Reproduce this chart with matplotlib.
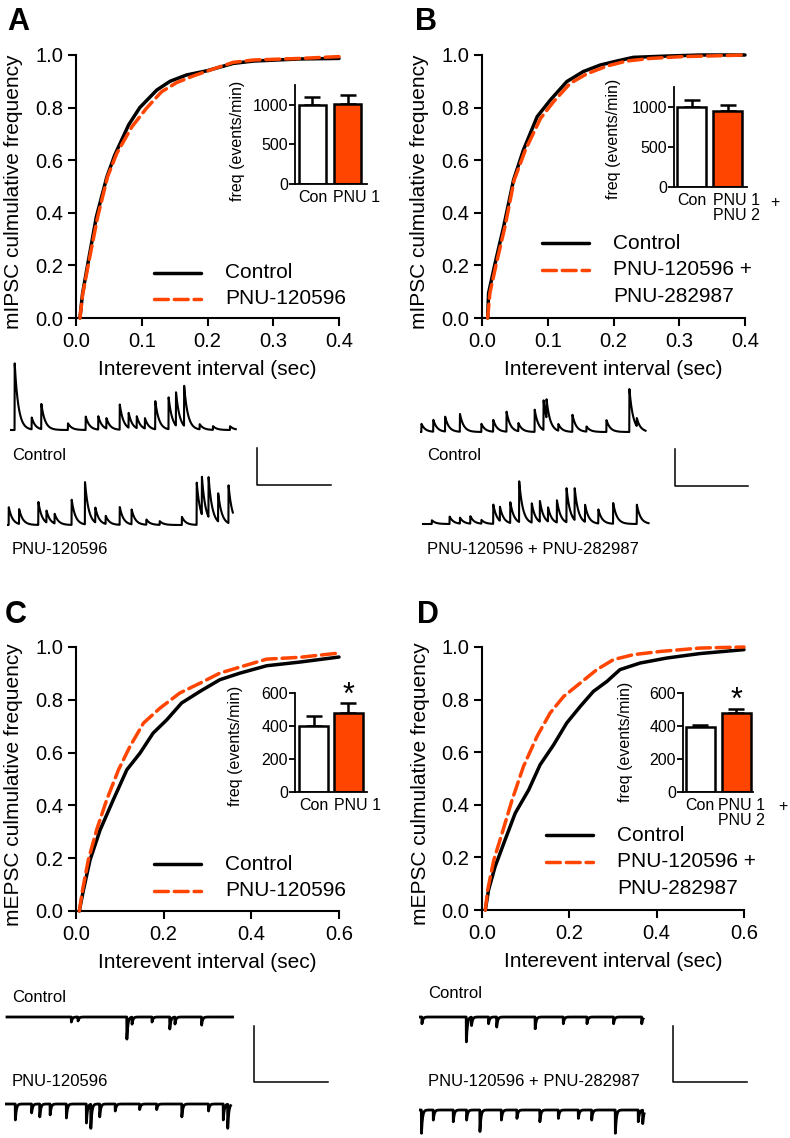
import numpy as np
import matplotlib
matplotlib.use("Agg")
import matplotlib.pyplot as plt
from matplotlib.lines import Line2D
from matplotlib.transforms import ScaledTranslation

plt.rcParams['font.family'] = ['Liberation Sans', 'DejaVu Sans']

ORANGE = '#ff4500'

# cumulative distributions, interevent interval (sec) vs cumulative fraction
a_ctrl_x = [0.006, 0.010, 0.019, 0.031, 0.047, 0.059, 0.080, 0.097, 0.123, 0.143, 0.168, 0.199, 0.239, 0.270, 0.341, 0.400]
a_ctrl_y = [0.0, 0.094, 0.22, 0.385, 0.537, 0.62, 0.734, 0.80, 0.867, 0.90, 0.924, 0.94, 0.968, 0.977, 0.985, 0.987]
a_pnu_x = [0.006, 0.010, 0.020, 0.033, 0.048, 0.062, 0.085, 0.107, 0.130, 0.153, 0.178, 0.209, 0.239, 0.270, 0.341, 0.400]
a_pnu_y = [0.0, 0.087, 0.22, 0.385, 0.537, 0.626, 0.727, 0.797, 0.86, 0.895, 0.92, 0.947, 0.972, 0.981, 0.987, 0.994]

b_ctrl_x = [0.0086, 0.010, 0.020, 0.033, 0.048, 0.063, 0.084, 0.104, 0.129, 0.154, 0.180, 0.205, 0.230, 0.281, 0.332, 0.400]
b_ctrl_y = [0.0, 0.095, 0.209, 0.348, 0.525, 0.639, 0.766, 0.829, 0.899, 0.937, 0.962, 0.977, 0.991, 0.996, 1.0, 1.0]
b_pnu_x = [0.0086, 0.012, 0.022, 0.035, 0.049, 0.066, 0.089, 0.109, 0.134, 0.159, 0.190, 0.220, 0.256, 0.306, 0.357, 0.400]
b_pnu_y = [0.0, 0.095, 0.209, 0.348, 0.525, 0.639, 0.759, 0.823, 0.892, 0.928, 0.958, 0.977, 0.987, 0.994, 0.997, 1.0]

c_ctrl_x = [0.0076, 0.017, 0.032, 0.055, 0.085, 0.116, 0.146, 0.176, 0.207, 0.241, 0.283, 0.328, 0.374, 0.435, 0.511, 0.600]
c_ctrl_y = [0.0, 0.08, 0.193, 0.307, 0.421, 0.535, 0.598, 0.674, 0.724, 0.788, 0.832, 0.876, 0.901, 0.929, 0.943, 0.962]
c_pnu_x = [0.0076, 0.015, 0.028, 0.047, 0.070, 0.097, 0.123, 0.154, 0.192, 0.237, 0.283, 0.328, 0.374, 0.435, 0.511, 0.600]
c_pnu_y = [0.0, 0.08, 0.193, 0.307, 0.421, 0.535, 0.623, 0.712, 0.769, 0.826, 0.863, 0.901, 0.924, 0.954, 0.961, 0.977]

d_ctrl_x = [0.0076, 0.015, 0.030, 0.050, 0.076, 0.107, 0.133, 0.164, 0.194, 0.225, 0.255, 0.286, 0.316, 0.362, 0.423, 0.499, 0.600]
d_ctrl_y = [0.0, 0.076, 0.165, 0.254, 0.368, 0.457, 0.552, 0.628, 0.711, 0.774, 0.831, 0.869, 0.914, 0.939, 0.958, 0.975, 0.99]
d_pnu_x = [0.0076, 0.013, 0.027, 0.046, 0.069, 0.095, 0.126, 0.156, 0.187, 0.225, 0.263, 0.301, 0.347, 0.408, 0.499, 0.600]
d_pnu_y = [0.0, 0.076, 0.19, 0.292, 0.419, 0.546, 0.66, 0.749, 0.812, 0.863, 0.914, 0.952, 0.971, 0.983, 0.996, 1.0]

# inset bar charts: mean frequency (events/min) and SEM
a_freq = [996, 1008]
a_sem = [108, 112]
b_freq = [995, 953]
b_sem = [97, 76]
c_freq = [401, 476]
c_sem = [57, 66]
d_freq = [391, 476]
d_sem = [18, 26]

# example traces: event times (s) and amplitudes (pA)
a_ctrl_t = [0.05, 0.28, 0.41, 0.77, 1.01, 1.18, 1.29, 1.47, 1.59, 1.70, 1.81, 1.95, 2.13, 2.23, 2.34, 2.55, 2.73, 2.96]
a_ctrl_amp = [90, 16, 34, 9, 18, 18, 14, 34, 20, 16, 14, 38, 43, 45, 54, 7, 5, 5]
a_pnu_t = [0.02, 0.16, 0.42, 0.53, 0.64, 0.87, 1.05, 1.19, 1.33, 1.52, 1.68, 1.88, 2.06, 2.36, 2.56, 2.63, 2.72, 2.85, 2.99]
a_pnu_amp = [24, 20, 31, 16, 13, 34, 57, 20, 11, 24, 20, 7, 5, 11, 57, 51, 54, 38, 51]
b_ctrl_t = [0.02, 0.18, 0.34, 0.54, 0.83, 0.99, 1.17, 1.33, 1.55, 1.67, 1.71, 1.87, 2.06, 2.25, 2.52, 2.83, 2.93]
b_ctrl_amp = [11, 16, 20, 24, 11, 16, 27, 11, 30, 40, 25, 9, 23, 7, 16, 58, 11]
b_pnu_t = [0.12, 0.36, 0.50, 0.64, 0.79, 0.95, 1.04, 1.18, 1.30, 1.47, 1.58, 1.69, 1.81, 1.94, 2.05, 2.19, 2.37, 2.57, 2.89]
b_pnu_amp = [5, 10, 8, 10, 5, 26, 19, 28, 55, 26, 28, 19, 30, 46, 43, 23, 19, 28, 26]
c_ctrl_t = [0.87, 0.96, 1.62, 1.69, 1.96, 2.20, 2.27, 2.63]
c_ctrl_amp = [1.8, 1.4, 7.9, 2.5, 1.8, 4.3, 2.5, 2.9]
c_pnu_t = [0.14, 0.36, 0.47, 0.61, 0.83, 1.10, 1.16, 1.28, 1.49, 1.82, 2.05, 2.39, 2.75, 2.95, 3.01]
c_pnu_amp = [5.7, 3.2, 4.6, 3.9, 5.0, 6.8, 8.6, 4.6, 2.5, 2.0, 2.0, 4.6, 2.5, 5.7, 8.6]
d_ctrl_t = [0.04, 0.64, 0.71, 0.94, 1.05, 1.57, 1.95, 2.27, 2.63, 3.01]
d_ctrl_amp = [2.4, 8.9, 3.0, 2.4, 3.6, 4.2, 2.4, 2.4, 2.4, 2.4]
d_pnu_t = [0.02, 0.18, 0.45, 0.63, 0.81, 1.10, 1.31, 1.62, 1.87, 2.14, 2.32, 2.64, 2.95, 3.01]
d_pnu_amp = [8.3, 3.6, 4.2, 3.6, 7.7, 3.6, 3.0, 4.2, 3.0, 3.0, 3.6, 8.3, 4.2, 4.8]

W, H = 790, 1138
fig = plt.figure(figsize=(W / 100, H / 100), dpi=100)


def rect(l, t, r, b):
    return [l / W, 1 - b / H, (r - l) / W, (b - t) / H]


def main_plot(box, xmax, xticks, cx, cy, px, py, ylabel):
    ax = fig.add_axes(rect(*box))
    ax.plot(cx, cy, color='black', lw=2.5, solid_capstyle='round', zorder=3, clip_on=False)
    ax.plot(px, py, color=ORANGE, lw=2.5, dashes=(4.0, 1.7), dash_capstyle='round',
            zorder=4, clip_on=False)
    ax.set_xlim(0, xmax)
    ax.set_ylim(0, 1)
    ax.set_xticks(xticks, [f'{v:.1f}' for v in xticks])
    yt = [0, 0.2, 0.4, 0.6, 0.8, 1.0]
    ax.set_yticks(yt, [f'{v:.1f}' for v in yt])
    for s in ['top', 'right']:
        ax.spines[s].set_visible(False)
    for s in ['left', 'bottom']:
        ax.spines[s].set_linewidth(1.5)
    ax.tick_params(direction='out', length=6, width=1.5, labelsize=14.5)
    ax.tick_params(axis='y', pad=3)
    ax.tick_params(axis='x', pad=4)
    ax.set_xlabel('Interevent interval (sec)', fontsize=15)
    ax.set_ylabel(ylabel, fontsize=15)
    ax.xaxis.set_label_coords(0.5, -0.16)
    ax.yaxis.set_label_coords(-0.2, 0.48)
    return ax


def inset(box, vals, errs, ymax, yticks, xlim, width, lab2, dx, ylab_x, ylab_y, plus=False, star=None):
    ax = fig.add_axes(rect(*box))
    ax.bar([0, 1], vals, width=width, color=['white', ORANGE], edgecolor='black',
           linewidth=1.8, zorder=2)
    ax.errorbar([0, 1], vals, yerr=[[0, 0], errs], fmt='none', ecolor='black',
                elinewidth=1.8, capsize=5.5, capthick=1.8, zorder=1)
    ax.set_xlim(*xlim)
    ax.set_ylim(0, ymax)
    ax.set_yticks(yticks)
    ax.set_xticks([0, 1], ['Con', lab2])
    for s in ['top', 'right']:
        ax.spines[s].set_visible(False)
    for s in ['left', 'bottom']:
        ax.spines[s].set_linewidth(1.3)
    ax.tick_params(axis='y', direction='out', length=4, width=1.3, labelsize=11.5, pad=1)
    ax.tick_params(axis='x', length=0, labelsize=11.5, pad=4)
    lab = ax.get_xticklabels()[1]
    lab.set_linespacing(1.0)
    lab.set_transform(lab.get_transform() + ScaledTranslation(dx / 100, 0, fig.dpi_scale_trans))
    ax.set_ylabel('freq (events/min)', fontsize=11.5)
    ax.yaxis.set_label_coords(ylab_x, ylab_y)
    if plus:
        ax.text(1 + 47 / 36, -0.15, '+', transform=ax.get_xaxis_transform(),
                ha='center', va='center', fontsize=11.5)
    if star is not None:
        ax.text(1, star, '*', ha='center', va='center', fontsize=22)
    return ax


def legend(x0, x1, xt, y0, labels):
    styles = [dict(color='black', lw=2.5, solid_capstyle='round'),
              dict(color=ORANGE, lw=2.5, dashes=(4.0, 1.7), dash_capstyle='round')]
    y = y0
    for st, lines in zip(styles, labels):
        fig.add_artist(Line2D([x0 / W, x1 / W], [1 - y / H, 1 - y / H],
                              transform=fig.transFigure, **st))
        for i, line in enumerate(lines):
            fig.text(xt / W, 1 - (y + i * 26.5) / H, line, fontsize=15, va='center')
        y += 26.3


def events(times, amps, dur, tau):
    tt = np.arange(0, dur, 0.002)
    y = np.zeros_like(tt)
    for ti, ai in zip(times, amps):
        m = tt >= ti
        y[m] += ai * np.exp(-(tt[m] - ti) / tau)
    return tt, y


def trace_panel(box, base, k, traces, bar, tau, sign, lw):
    l, t, r, b = box
    ax = fig.add_axes(rect(l, t, r, b))
    ax.set_xlim(0, (r - l) / 74)
    ax.set_ylim((base - b) * k, (base - t) * k)
    ax.axis('off')
    for start, off, times, amps, dur in traces:
        tt, y = events(times, amps, dur, tau)
        ax.plot(tt + (start - l) / 74, sign * y + (base - off) * k, color='black', lw=lw)
    bx, btop, bbot, bend = bar
    ax.plot([(bx - l) / 74, (bx - l) / 74, (bend - l) / 74],
            [(base - btop) * k, (base - bbot) * k, (base - bbot) * k],
            color='black', lw=1.1, clip_on=False)


# main cumulative plots
main_plot((76, 55, 339, 318), 0.4, [0, 0.1, 0.2, 0.3, 0.4], a_ctrl_x, a_ctrl_y, a_pnu_x, a_pnu_y,
          'mIPSC culmulative frequency')
main_plot((482, 55, 745, 318), 0.4, [0, 0.1, 0.2, 0.3, 0.4], b_ctrl_x, b_ctrl_y, b_pnu_x, b_pnu_y,
          'mIPSC culmulative frequency')
main_plot((76, 647, 339, 911), 0.6, [0, 0.2, 0.4, 0.6], c_ctrl_x, c_ctrl_y, c_pnu_x, c_pnu_y,
          'mEPSC culmulative frequency')
main_plot((482, 647, 744, 910), 0.6, [0, 0.2, 0.4, 0.6], d_ctrl_x, d_ctrl_y, d_pnu_x, d_pnu_y,
          'mEPSC culmulative frequency')

# insets
inset((295, 85, 367, 184), a_freq, a_sem, 1250, [0, 500, 1000], (-0.49, 1.54), 0.76,
      'PNU 1', 9, -0.69, 0.44)
inset((674, 87, 747, 187), b_freq, b_sem, 1250, [0, 500, 1000], (-0.49, 1.53), 0.8,
      'PNU 1\nPNU 2', 9, -0.72, 0.48, plus=True)
inset((295, 693, 367, 792), c_freq, c_sem, 600, [0, 200, 400, 600], (-0.53, 1.53), 0.83,
      'PNU 1', 9, -0.72, 0.47, star=585)
inset((683, 693, 753, 792), d_freq, d_sem, 600, [0, 200, 400, 600], (-0.48, 1.47), 0.81,
      'PNU 1\nPNU 2', 5, -0.71, 0.51, plus=True, star=555)

# legends
legend(154, 201, 225, 272.7, [['Control'], ['PNU-120596']])
legend(542, 589, 613, 243.3, [['Control'], ['PNU-120596 +', 'PNU-282987']])
legend(154, 201, 225, 864.3, [['Control'], ['PNU-120596']])
legend(546, 593, 617, 835.3, [['Control'], ['PNU-120596 +', 'PNU-282987']])

# panel letters
for x, y, s in [(7, 30, 'A'), (415, 30, 'B'), (5, 623, 'C'), (417, 623, 'D')]:
    fig.text(x / W, 1 - y / H, s, fontsize=22, fontweight='bold', va='baseline')

# example traces with scale bars
trace_panel((7, 355, 331, 545), 430, 50 / 37,
            [(11, 430, a_ctrl_t, a_ctrl_amp, 3.04), (7.3, 525, a_pnu_t, a_pnu_amp, 3.05)],
            (257, 448, 485, 331), 0.05, 1, 1.5)
trace_panel((420, 355, 748, 545), 432, 50 / 37,
            [(420, 432, b_ctrl_t, b_ctrl_amp, 3.05), (423, 524, b_pnu_t, b_pnu_amp, 3.05)],
            (675, 449, 486, 748), 0.05, 1, 1.5)
trace_panel((5, 995, 328, 1135), 1017, 20 / 56,
            [(7, 1017, c_ctrl_t, c_ctrl_amp, 3.05), (5, 1104, c_pnu_t, c_pnu_amp, 3.05)],
            (254, 1026, 1082, 328), 0.014, -1, 2.0)
trace_panel((419, 995, 747, 1137), 1017, 20 / 56,
            [(419, 1017, d_ctrl_t, d_ctrl_amp, 3.03), (420, 1110, d_pnu_t, d_pnu_amp, 3.03)],
            (673, 1026, 1082, 747), 0.014, -1, 2.0)

for x, y, s in [(12, 456, 'Control'), (12, 550, 'PNU-120596'),
                (427, 456, 'Control'), (427, 550, 'PNU-120596 + PNU-282987'),
                (12, 997, 'Control'), (12, 1082, 'PNU-120596'),
                (428, 993, 'Control'), (428, 1082, 'PNU-120596 + PNU-282987')]:
    fig.text(x / W, 1 - y / H, s, fontsize=12, va='center')

fig.savefig('out.png', dpi=100)
